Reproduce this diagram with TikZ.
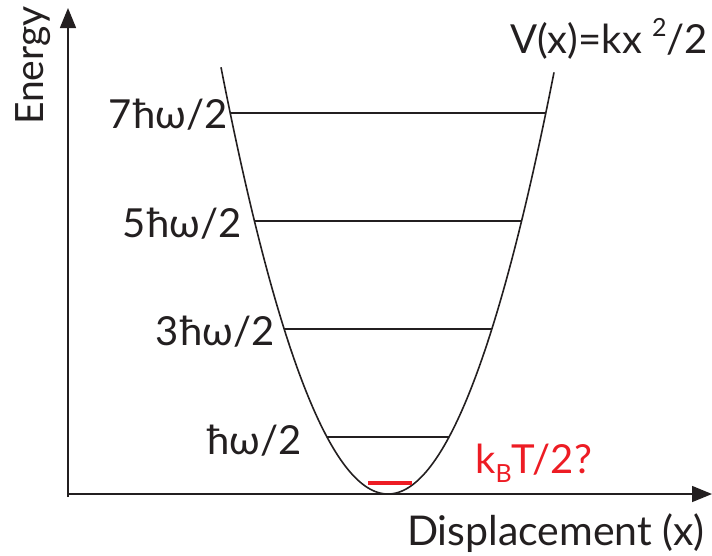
\documentclass[tikz,border=0pt]{standalone}
\usepackage{fontspec}
\setmainfont{Lato}
\usetikzlibrary{arrows.meta}
\definecolor{ink}{RGB}{35,31,32}
\definecolor{redink}{RGB}{237,28,36}
\begin{document}
\begin{tikzpicture}[x=1pt,y=-1pt,
  lbl/.style={inner sep=0pt,text=ink,font=\fontsize{40}{42}\selectfont},
  axis/.style={draw=ink,line width=1.5pt,-{Triangle[length=20pt,width=16pt]}},
  level/.style={draw=ink,line width=1.4pt},
  well/.style={draw=ink,line width=1.6pt}]
\useasboundingbox (0,0) rectangle (712,555);
% axes
\coordinate (O) at (68,494);
\coordinate (Ybot) at (68,497);
\coordinate (Ytip) at (68,8);
\coordinate (Xtip) at (712,494);
\draw[axis] (Ybot) -- (Ytip);
\draw[axis] (O) -- (Xtip);
% potential well
\draw[well,domain=221:554,samples=150] plot (\x,{494-1.53*((\x-388)/10)^2});
% levels
\coordinate (L7a) at (230,113); \coordinate (L7b) at (546,113);
\coordinate (L5a) at (254,221); \coordinate (L5b) at (522,221);
\coordinate (L3a) at (284,329); \coordinate (L3b) at (492,329);
\coordinate (L1a) at (327,437); \coordinate (L1b) at (449,437);
\draw[level] (L7a) -- (L7b);
\draw[level] (L5a) -- (L5b);
\draw[level] (L3a) -- (L3b);
\draw[level] (L1a) -- (L1b);
% thermal level
\coordinate (Ra) at (368,483); \coordinate (Rb) at (412,483);
\draw[draw=redink,line width=3.5pt] (Ra) -- (Rb);
% labels
\node[lbl,anchor=base east] (t7) at (228,128) {7\kern2pt ħω/2};
\node[lbl,anchor=base east] (t5) at (242,237) {5\kern2pt ħω/2};
\node[lbl,anchor=base east] (t3) at (275,345) {3\kern2pt ħω/2};
\node[lbl,anchor=base east] (t1) at (302,454) {ħω/2};
\node[lbl,anchor=base west,text=redink] (kt) at (475,473) {k\raisebox{-9pt}{\fontsize{25}{25}\selectfont B}T/2?};
\node[lbl,anchor=base west] (vx) at (510,53) {V(x)=kx\hspace{10pt}\raisebox{17pt}{\fontsize{25}{25}\selectfont 2}/2};
\node[lbl,anchor=base east,font=\fontsize{41}{43}\selectfont] (xl) at (705,545) {Displacement (x)};
\node[lbl,anchor=base west,rotate=90,font=\fontsize{39}{41}\selectfont] (yl) at (43,125) {Energy};
\end{tikzpicture}
\end{document}
